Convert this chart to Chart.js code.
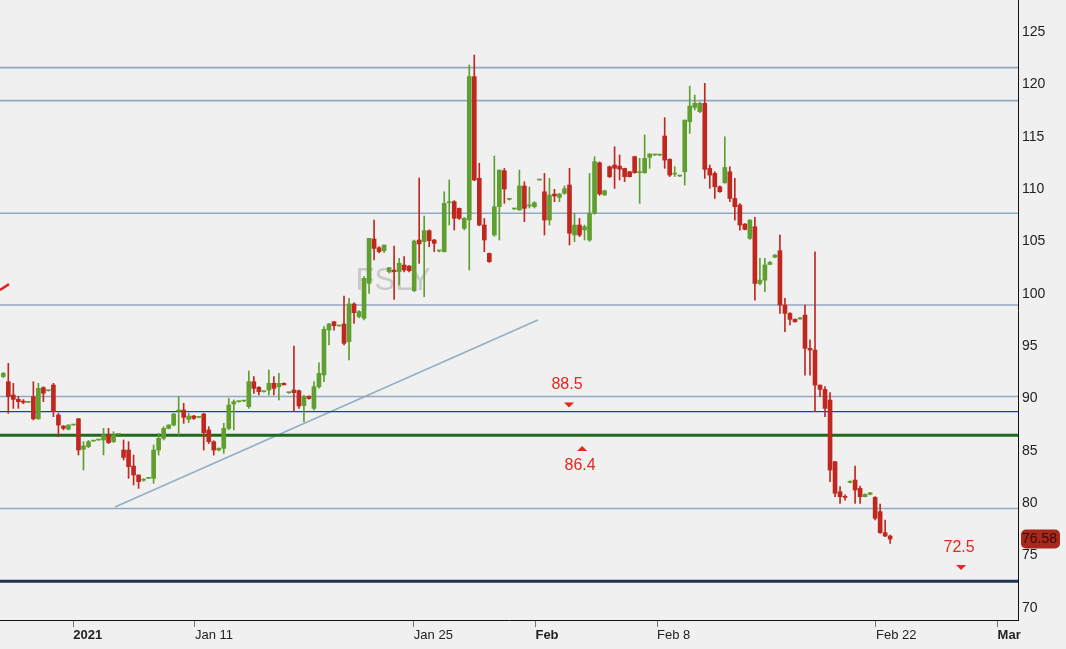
<!DOCTYPE html>
<html>
<head>
<meta charset="utf-8">
<script src="https://cdn.jsdelivr.net/npm/chart.js@4.4.1/dist/chart.umd.min.js"></script>
<style>
  html, body { margin: 0; padding: 0; background: #f0f0f0; }
  #wrap { width: 1066px; height: 649px; }
</style>
</head>
<body>
<div id="wrap"><canvas id="grafico" width="1066" height="649"></canvas></div>
<script>
// candles, one per intraday bar
const opens = [
  92.1, 91.61, 90.34, 89.92, 89.76, 89.64, 90.18, 88.07, 91.04, 90.75,
  91.29, 88.43, 87.38, 87.06, 87.47, 88.07, 85.15, 85.4, 85.94, 86.04,
  86.04, 86.52, 85.88, 86.58, 85.08, 85.08, 83.55, 82.7, 82.2, 82.38,
  82.38, 85.08, 86.2, 87.15, 87.47, 88.81, 88.9, 88.01, 88.33, 88.2,
  88.52, 87.0, 85.88, 85.08, 85.24, 87.15, 89.48, 89.7, 89.76, 89.22,
  91.61, 91.07, 90.66, 90.81, 91.45, 91.13, 91.45, 90.56, 90.81, 90.75,
  89.32, 90.2, 89.06, 91.13, 92.25, 96.54, 97.34, 96.93, 97.12, 95.43,
  99.03, 97.82, 97.66, 101.0, 105.24, 104.4, 104.12, 102.12, 102.27, 102.12,
  102.75, 102.66, 100.3, 105.14, 104.98, 106.03, 105.14, 104.09, 104.02, 108.7,
  108.8, 108.16, 106.25, 107.05, 120.74, 111.03, 106.57, 103.86, 105.62, 108.32,
  111.76, 109.02, 108.1, 108.0, 110.3, 108.4, 108.32, 110.87, 109.75, 107.05,
  109.53, 109.21, 109.6, 110.39, 105.62, 106.57, 106.1, 105.14, 107.7, 112.52,
  109.44, 112.14, 112.3, 112.2, 111.98, 111.66, 113.1, 111.57, 111.57, 113.03,
  113.26, 113.25, 115.07, 112.84, 111.44, 111.25, 111.66, 116.44, 117.8, 117.4,
  118.19, 111.98, 111.5, 110.23, 110.61, 111.66, 109.11, 108.48, 106.66, 105.29,
  106.41, 100.99, 101.31, 102.8, 103.5, 104.12, 98.93, 98.13, 97.56, 97.6,
  97.97, 94.79, 94.63, 91.28, 90.87, 89.86, 83.97, 81.1, 80.66, 82.0,
  82.22, 81.42, 80.63, 80.85, 80.56, 79.2, 77.19, 76.87
];
const highs = [
  92.5, 93.36, 91.45, 90.2, 89.9, 89.7, 91.61, 91.45, 91.13, 90.8,
  91.45, 88.59, 87.4, 87.5, 87.5, 88.1, 85.88, 86.0, 86.0, 86.1,
  87.15, 87.15, 86.83, 86.6, 86.04, 85.88, 84.6, 82.7, 82.35, 82.4,
  85.56, 86.68, 87.3, 87.5, 88.59, 90.18, 89.54, 88.59, 88.4, 88.25,
  88.59, 87.31, 85.97, 85.3, 87.63, 90.02, 89.86, 89.75, 89.8, 92.63,
  92.09, 91.13, 90.7, 92.72, 92.09, 92.41, 91.5, 90.6, 95.02, 90.8,
  90.3, 90.25, 91.61, 93.42, 96.86, 97.18, 97.34, 97.0, 99.79, 99.57,
  99.15, 98.4, 101.64, 105.3, 107.05, 104.5, 104.66, 102.5, 104.57, 103.39,
  103.55, 102.7, 105.14, 111.06, 107.43, 106.1, 105.2, 104.15, 109.75, 110.87,
  108.9, 108.2, 107.3, 121.85, 122.81, 112.46, 107.2, 103.9, 113.16, 111.82,
  111.98, 109.1, 108.15, 111.82, 110.7, 110.2, 108.8, 110.9, 111.5, 111.03,
  109.98, 109.6, 110.3, 111.98, 107.7, 107.2, 106.57, 111.5, 113.1, 112.6,
  109.9, 112.2, 114.05, 113.26, 112.0, 111.7, 113.15, 112.94, 115.17, 113.4,
  113.3, 113.3, 116.82, 112.9, 112.14, 111.3, 116.6, 119.84, 118.98, 118.3,
  120.1, 112.3, 111.66, 110.3, 115.0, 112.14, 111.02, 108.63, 106.7, 107.1,
  107.3, 103.38, 103.38, 103.1, 103.75, 105.61, 99.56, 98.2, 97.6, 97.75,
  98.93, 95.6, 104.02, 91.3, 91.13, 90.56, 83.97, 81.58, 80.8, 82.15,
  83.56, 81.64, 80.9, 81.05, 80.63, 79.93, 78.4, 76.97
];
const lows = [
  92.0, 88.59, 89.06, 89.06, 89.5, 89.6, 87.95, 88.0, 89.7, 90.7,
  88.27, 86.36, 87.0, 87.0, 87.45, 84.61, 83.17, 85.3, 85.9, 86.0,
  84.61, 85.7, 85.8, 86.55, 84.13, 82.38, 81.74, 81.42, 82.1, 82.35,
  81.9, 84.6, 86.04, 87.1, 87.38, 86.52, 87.63, 87.7, 88.0, 88.15,
  85.08, 85.7, 84.6, 85.0, 84.77, 87.0, 87.0, 89.65, 89.7, 89.06,
  90.5, 90.34, 90.6, 90.34, 90.34, 89.86, 91.3, 90.5, 88.75, 89.06,
  87.79, 89.95, 88.9, 91.0, 91.61, 95.11, 96.54, 96.9, 95.11, 93.68,
  97.18, 97.7, 97.5, 100.05, 103.23, 103.9, 103.93, 102.0, 99.47, 100.84,
  102.1, 102.1, 100.2, 102.91, 99.73, 104.5, 104.03, 104.0, 104.0, 106.57,
  106.09, 107.1, 106.1, 102.27, 110.8, 106.5, 104.02, 103.0, 105.5, 105.14,
  108.64, 108.95, 108.05, 108.0, 106.89, 108.2, 108.2, 110.85, 105.62, 106.57,
  108.8, 108.8, 109.5, 104.66, 104.98, 105.46, 105.14, 105.0, 107.6, 109.4,
  109.4, 111.1, 110.07, 110.87, 110.71, 111.15, 111.5, 108.64, 111.5, 111.98,
  113.2, 113.2, 111.98, 111.2, 111.2, 111.2, 110.39, 115.32, 117.55, 117.3,
  111.02, 110.07, 109.11, 109.7, 110.55, 108.8, 107.04, 106.09, 106.1, 105.2,
  99.4, 100.84, 100.2, 102.8, 103.45, 98.13, 96.38, 97.02, 97.3, 97.55,
  92.24, 92.24, 88.74, 90.17, 88.26, 82.06, 80.63, 79.99, 80.3, 81.95,
  79.99, 79.99, 80.6, 80.8, 78.4, 77.12, 76.81, 76.17
];
const closes = [
  92.4, 90.18, 89.92, 89.7, 89.64, 89.64, 88.07, 90.97, 90.5, 90.75,
  88.75, 87.47, 87.15, 87.47, 87.47, 85.08, 85.47, 85.88, 85.94, 86.04,
  86.52, 85.78, 86.52, 86.58, 84.38, 83.49, 82.7, 82.06, 82.3, 82.38,
  85.08, 86.2, 87.15, 87.47, 88.52, 88.81, 88.2, 88.33, 88.1, 88.2,
  86.74, 85.88, 85.08, 85.24, 87.15, 89.38, 89.7, 89.7, 89.76, 91.61,
  90.97, 90.66, 90.66, 91.45, 90.97, 91.45, 91.3, 90.56, 90.56, 89.29,
  90.18, 90.0, 91.13, 92.4, 96.61, 97.12, 96.96, 96.93, 95.27, 99.03,
  98.2, 98.3, 101.48, 105.3, 104.34, 104.03, 104.66, 102.5, 102.12, 102.91,
  102.27, 102.21, 105.04, 104.76, 106.03, 105.08, 104.82, 104.09, 108.64, 108.7,
  107.21, 107.21, 107.21, 120.74, 110.87, 106.57, 105.14, 103.07, 108.32, 111.82,
  110.01, 109.02, 108.1, 110.3, 108.16, 108.4, 108.7, 110.87, 107.05, 109.44,
  109.34, 109.53, 110.04, 105.78, 106.57, 105.62, 106.41, 107.7, 112.62, 109.53,
  109.85, 111.19, 111.98, 111.9, 111.19, 111.19, 111.57, 111.57, 112.94, 113.35,
  113.26, 113.25, 112.77, 111.34, 111.44, 111.25, 116.59, 117.93, 118.19, 118.19,
  111.88, 111.34, 110.23, 109.75, 112.07, 109.11, 108.32, 106.57, 106.15, 107.04,
  100.99, 101.31, 102.75, 103.0, 103.7, 98.93, 98.13, 97.56, 97.33, 97.7,
  94.79, 94.63, 91.28, 90.87, 89.06, 83.17, 80.95, 80.63, 80.56, 82.1,
  81.26, 80.63, 80.85, 81.0, 78.56, 77.19, 76.87, 76.58
];

// x axis is in trading days, 0 = first trading day of 2021
const firstBarDay = -2.878;
const barStep = 0.206;
const tickDays = [0, 5, 14, 19, 24, 33, 38];
const tickLabels = ['2021', 'Jan 11', 'Jan 25', 'Feb', 'Feb 8', 'Feb 22', 'Mar'];
const boldLabels = ['2021', 'Feb', 'Mar'];
const yTicks = [70, 75, 80, 85, 90, 95, 100, 105, 110, 115, 120, 125];

// drawn levels and lines
const levels = [121.6, 118.45, 107.7, 98.93, 90.2, 79.5];
const blueLevel = 88.75;
const greenLevel = 86.5;
const navyLevel = 72.55;
const trendX = [1.715, 19.1];
const trendY = [79.64, 97.5];
const redSegX = [-3.014, -2.644];
const redSegY = [100.36, 100.93];

// price alerts
const annLabels = ['88.5', '86.4', '72.5'];
const annDays = [20.38, 20.92, 36.5];
const annValues = [89.38, 85.22, 73.86];
const annDown = [true, false, true];

const symbol = 'FSLY';
const lastPrice = 76.58;

const VERDE = '#5f9f2f';
const VERMELHO = '#c0281f';
const FONTE = "'Liberation Sans', Arial, sans-serif";

const barX = i => firstBarDay + i * barStep;
const corVela = ctx => closes[ctx.dataIndex] >= opens[ctx.dataIndex] ? VERDE : VERMELHO;

function linha(xs, ys, cor, largura) {
  return {
    type: 'line',
    data: xs.map((x, i) => ({ x: x, y: ys[i] })),
    borderColor: cor,
    borderWidth: largura,
    pointRadius: 0,
    tension: 0,
    order: 5
  };
}

const xMin = -3.014, xMax = 38.84;

const datasets = [
  {
    label: 'pavio',
    data: opens.map((o, i) => ({ x: barX(i), y: [lows[i], highs[i]] })),
    backgroundColor: corVela,
    barThickness: 1,
    grouped: false,
    order: 1
  },
  {
    label: 'corpo',
    data: opens.map((o, i) => ({ x: barX(i), y: [o, closes[i]] })),
    backgroundColor: corVela,
    barThickness: 4,
    minBarLength: 1,
    grouped: false,
    order: 0
  }
];
levels.forEach(v => datasets.push(linha([xMin, xMax], [v, v], '#91a9c1', 1.6)));
datasets.push(linha([xMin, xMax], [blueLevel, blueLevel], '#1e2cff', 1.3));
datasets.push(linha([xMin, xMax], [greenLevel, greenLevel], '#1f6a1f', 3));
datasets.push(linha([xMin, xMax], [navyLevel, navyLevel], '#1d3350', 3));
datasets.push(linha(trendX, trendY, '#8fafc6', 1.5));
datasets.push(linha(redSegX, redSegY, '#e0251e', 2.5));

// background, watermark, alerts and last price tag
const extras = {
  id: 'extras',
  beforeDraw(chart) {
    const c = chart.ctx;
    c.save();
    c.fillStyle = '#f0f0f0';
    c.fillRect(0, 0, chart.width, chart.height);
    c.restore();
  },
  beforeDatasetsDraw(chart) {
    const c = chart.ctx, xs = chart.scales.x, ys = chart.scales.y;
    c.save();
    c.font = '31px ' + FONTE;
    c.fillStyle = '#c9c9c9';
    c.textAlign = 'center';
    c.textBaseline = 'middle';
    c.fillText(symbol, xs.getPixelForValue(13.15), ys.getPixelForValue(101.15));
    c.restore();
  },
  afterDraw(chart) {
    const c = chart.ctx, xs = chart.scales.x, ys = chart.scales.y;
    c.save();
    c.fillStyle = '#e4271f';
    c.font = '16px ' + FONTE;
    c.textAlign = 'center';
    c.textBaseline = 'middle';
    annLabels.forEach((t, i) => {
      const px = xs.getPixelForValue(annDays[i]);
      const py = ys.getPixelForValue(annValues[i]);
      c.beginPath();
      if (annDown[i]) {
        c.moveTo(px - 5, py - 2.5); c.lineTo(px + 5, py - 2.5); c.lineTo(px, py + 2.5);
      } else {
        c.moveTo(px - 5, py + 2.5); c.lineTo(px + 5, py + 2.5); c.lineTo(px, py - 2.5);
      }
      c.closePath();
      c.fill();
      c.fillText(t, px - 2, annDown[i] ? py - 20 : py + 17);
    });

    // etiqueta do ultimo preco
    const yp = ys.getPixelForValue(lastPrice);
    c.fillStyle = '#a8281c';
    c.beginPath();
    c.roundRect(1021, yp - 9.5, 39, 19, 5);
    c.fill();
    c.fillStyle = '#3a0803';
    c.font = '14px ' + FONTE;
    c.textAlign = 'left';
    c.fillText(lastPrice.toFixed(2), 1022, yp + 0.5);
    c.restore();
  }
};

const ctx = document.getElementById('grafico').getContext('2d');

let grafico = new Chart(ctx, {
  type: 'bar',
  data: { datasets: datasets },
  options: {
    responsive: false,
    devicePixelRatio: 1,
    animation: false,
    layout: { padding: 0 },
    plugins: {
      legend: { display: false },
      tooltip: { enabled: false }
    },
    scales: {
      x: {
        type: 'linear',
        offset: false,
        min: xMin,
        max: xMax,
        afterBuildTicks: s => { s.ticks = tickDays.map(v => ({ value: v })); },
        afterFit: s => { s.height = 29; s.paddingLeft = 0; s.paddingRight = 0; },
        ticks: {
          autoSkip: false,
          maxRotation: 0,
          minRotation: 0,
          align: 'start',
          padding: 1,
          color: '#222',
          callback: v => tickLabels[tickDays.indexOf(v)],
          font: c => {
            const lbl = c.tick ? tickLabels[tickDays.indexOf(c.tick.value)] : '';
            return { family: FONTE, size: 13, weight: boldLabels.includes(lbl) ? 'bold' : 'normal' };
          }
        },
        grid: { display: true, offset: false, drawOnChartArea: false, drawTicks: true, tickLength: 7, color: '#777' },
        border: { display: true, color: '#111', width: 1 }
      },
      y: {
        type: 'linear',
        position: 'right',
        min: 68.85,
        max: 128.06,
        afterBuildTicks: s => { s.ticks = yTicks.map(v => ({ value: v })); },
        afterFit: s => { s.width = 48; s.paddingTop = 0; s.paddingBottom = 0; },
        ticks: { color: '#222', padding: 4, font: { family: FONTE, size: 14 } },
        grid: { display: false, drawTicks: false },
        border: { display: true, color: '#111', width: 1 }
      }
    }
  },
  plugins: [extras]
});
</script>
</body>
</html>
